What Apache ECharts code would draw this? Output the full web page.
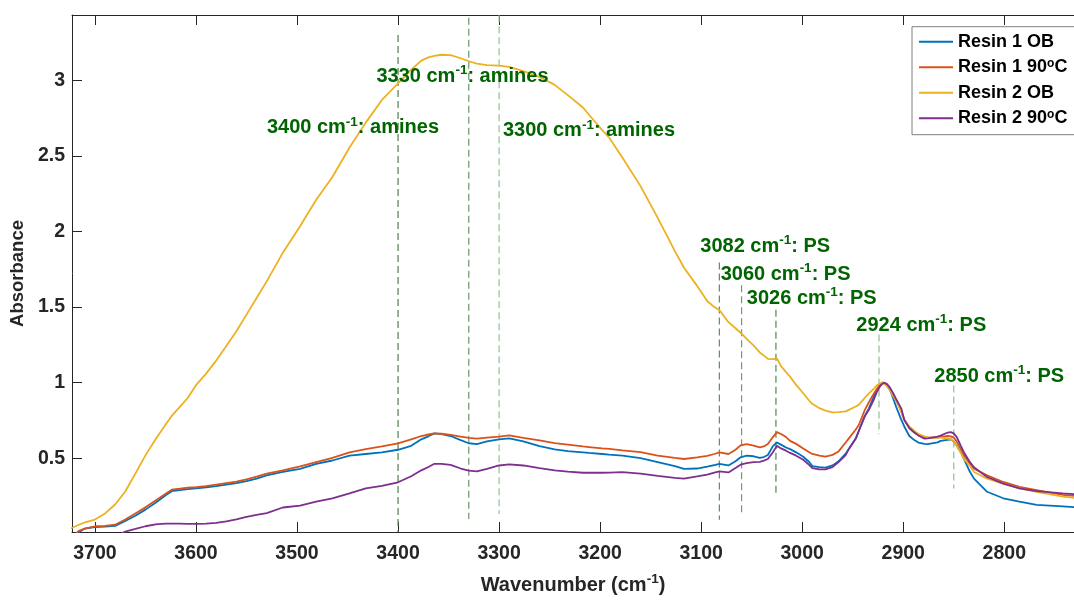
<!DOCTYPE html>
<html><head><meta charset="utf-8">
<script src="https://cdn.jsdelivr.net/npm/echarts@6/dist/echarts.min.js"></script>
<style>html,body{margin:0;padding:0;background:#fff}#c{width:1074px;height:603px}</style>
</head><body><div id="c"></div>
<script>
// ---- data ----
const wavenumber = [3724,3716,3710,3700,3690,3680,3670,3660,3650,3640,3630,3624,3616,3608,3600,3590,3580,3570,3560,3550,3540,3530,3514,3497,3481,3465,3448,3432,3416,3400,3387,3377,3370,3364,3357,3348,3338,3330,3322,3312,3300,3290,3276,3260,3245,3232,3217,3211,3198,3191,3178,3160,3143,3126,3117,3104,3094,3087,3082,3073,3066,3061,3055,3048,3042,3038,3034,3029,3025,3021,3016,3012,3006,2999,2993,2990,2983,2977,2970,2964,2957,2954,2947,2944,2938,2934,2929,2926,2923,2921,2919,2916,2913,2910,2907,2902,2899,2894,2889,2885,2879,2876,2866,2863,2856,2853,2850,2847,2843,2840,2834,2830,2817,2801,2785,2768,2742,2730];
const resin1OB = [-0.03,0.01,0.035,0.045,0.048,0.052,0.085,0.12,0.16,0.205,0.255,0.282,0.289,0.295,0.30,0.308,0.316,0.325,0.335,0.348,0.365,0.387,0.409,0.43,0.463,0.485,0.517,0.528,0.539,0.556,0.582,0.625,0.645,0.664,0.66,0.647,0.62,0.599,0.593,0.612,0.625,0.631,0.612,0.58,0.558,0.547,0.539,0.535,0.528,0.524,0.517,0.50,0.474,0.448,0.43,0.432,0.445,0.455,0.462,0.452,0.48,0.506,0.517,0.513,0.502,0.508,0.521,0.58,0.604,0.59,0.571,0.56,0.539,0.51,0.475,0.448,0.441,0.438,0.452,0.48,0.53,0.56,0.63,0.68,0.78,0.83,0.91,0.95,0.985,1.0,0.995,0.983,0.95,0.896,0.84,0.755,0.71,0.647,0.62,0.604,0.595,0.593,0.605,0.615,0.622,0.625,0.61,0.582,0.54,0.495,0.41,0.365,0.278,0.235,0.213,0.192,0.181,0.176];
const resin190C = [-0.03,0.02,0.035,0.05,0.053,0.06,0.095,0.135,0.175,0.22,0.265,0.292,0.298,0.305,0.308,0.315,0.325,0.335,0.345,0.36,0.378,0.398,0.42,0.446,0.474,0.502,0.539,0.56,0.578,0.598,0.625,0.647,0.657,0.664,0.662,0.655,0.643,0.634,0.63,0.636,0.643,0.651,0.634,0.618,0.60,0.59,0.578,0.574,0.565,0.562,0.552,0.54,0.517,0.502,0.495,0.506,0.515,0.528,0.538,0.528,0.556,0.585,0.593,0.584,0.572,0.578,0.594,0.64,0.673,0.66,0.64,0.615,0.595,0.565,0.539,0.528,0.517,0.51,0.522,0.545,0.604,0.63,0.69,0.72,0.82,0.87,0.929,0.96,0.99,1.0,0.998,0.985,0.96,0.92,0.886,0.81,0.755,0.70,0.67,0.655,0.636,0.636,0.636,0.64,0.647,0.645,0.636,0.61,0.56,0.52,0.463,0.43,0.387,0.343,0.31,0.289,0.257,0.25];
const resin2OB = [0.035,0.06,0.075,0.094,0.135,0.194,0.28,0.398,0.519,0.625,0.723,0.78,0.84,0.90,0.983,1.06,1.146,1.243,1.34,1.45,1.56,1.67,1.86,2.035,2.21,2.36,2.556,2.72,2.87,2.98,3.07,3.13,3.152,3.162,3.169,3.167,3.146,3.126,3.11,3.10,3.097,3.089,3.061,3.022,2.97,2.902,2.82,2.772,2.67,2.62,2.49,2.30,2.09,1.87,1.76,1.64,1.54,1.50,1.48,1.40,1.36,1.33,1.29,1.245,1.20,1.18,1.157,1.155,1.16,1.11,1.07,1.04,0.985,0.93,0.88,0.86,0.831,0.815,0.803,0.805,0.81,0.82,0.842,0.853,0.90,0.929,0.96,0.983,0.994,1.0,0.995,0.975,0.95,0.91,0.88,0.81,0.755,0.71,0.68,0.66,0.645,0.636,0.636,0.636,0.63,0.625,0.61,0.582,0.535,0.495,0.45,0.409,0.365,0.332,0.30,0.278,0.246,0.238];
const resin290C = [-0.12,-0.10,-0.08,-0.06,-0.04,-0.02,0.015,0.032,0.05,0.062,0.067,0.068,0.067,0.066,0.066,0.068,0.072,0.083,0.096,0.112,0.125,0.137,0.174,0.187,0.213,0.235,0.267,0.30,0.317,0.341,0.381,0.42,0.442,0.463,0.462,0.456,0.432,0.418,0.413,0.43,0.452,0.46,0.452,0.435,0.42,0.411,0.404,0.404,0.404,0.405,0.408,0.398,0.383,0.37,0.365,0.38,0.392,0.405,0.413,0.406,0.435,0.457,0.468,0.474,0.476,0.484,0.495,0.54,0.582,0.565,0.55,0.535,0.517,0.49,0.455,0.435,0.426,0.426,0.441,0.475,0.52,0.56,0.63,0.68,0.78,0.82,0.89,0.94,0.975,0.99,1.0,0.99,0.965,0.93,0.89,0.83,0.755,0.70,0.67,0.65,0.63,0.632,0.643,0.65,0.67,0.673,0.664,0.64,0.582,0.54,0.474,0.44,0.376,0.332,0.30,0.283,0.267,0.262];
const seriesNames = ['Resin 1 OB', 'Resin 1 90°C', 'Resin 2 OB', 'Resin 2 90°C'];
const xTicks = [3700, 3600, 3500, 3400, 3300, 3200, 3100, 3000, 2900, 2800];
const yTicks = [0.5, 1, 1.5, 2, 2.5, 3];
const peakWavenumbers = [3400, 3330, 3300, 3082, 3060, 3026, 2924, 2850];
const peakAssignments = ['amines', 'amines', 'amines', 'PS', 'PS', 'PS', 'PS', 'PS'];
const peakLineTop = [3.30, 3.414, 3.43, 1.794, 1.645, 1.482, 1.319, 0.981];
const peakLineBottom = [0.012, 0.098, 0.131, 0.093, 0.137, 0.257, 0.658, 0.30];
const peakLabelAnchorX = [3529.8, 3421.4, 3296.2, 3100.9, 3080.7, 3054.8, 2946.4, 2869.3];
const peakLabelAnchorY = [2.685, 3.024, 2.666, 1.900, 1.717, 1.555, 1.379, 1.044];

// ---- styles ----
const lineColors = ['#0072BD', '#D95319', '#EDB120', '#7E2F8E'];
const peakLineColors = ['#4f7f4f', '#6a976a', '#93c193', '#5a8f5a', '#6f9a6f', '#4a8a4a', '#8fbf8f', '#8fbf8f'];
const axisColor = '#262626';
const annColor = '#006400';
const X_MIN = 2731, X_MAX = 3722.7, Y_MIN = 0.012, Y_MAX = 3.432;

const spectra = [resin1OB, resin190C, resin2OB, resin290C];
const series = [];

peakWavenumbers.forEach((w, i) => {
  series.push({
    type: 'line', silent: true, symbol: 'none', z: 1,
    data: [[w, peakLineTop[i]], [w, peakLineBottom[i]]],
    lineStyle: { color: peakLineColors[i], width: 1.2, type: [7, 4] }
  });
});

spectra.forEach((arr, k) => {
  series.push({
    name: seriesNames[k], type: 'line', symbol: 'none', showSymbol: false, z: 3,
    data: wavenumber.map((w, i) => [w, arr[i]]),
    lineStyle: { color: lineColors[k], width: 1.8 },
    itemStyle: { color: lineColors[k] },
    clip: true
  });
});

series.push({
  type: 'scatter', silent: true, z: 5, symbolSize: 0,
  itemStyle: { color: 'rgba(0,0,0,0)', opacity: 1 },
  data: peakLabelAnchorX.map((x, i) => [x, peakLabelAnchorY[i]]),
  label: {
    show: true, position: [0, 0], align: 'left', verticalAlign: 'middle', opacity: 1,
    formatter: p => '{n|' + peakWavenumbers[p.dataIndex] + ' cm}{s|-1}{n|: ' + peakAssignments[p.dataIndex] + '}',
    rich: {
      n: { fontFamily: 'Liberation Sans', fontWeight: 'bold', fontSize: 20, color: annColor, lineHeight: 26 },
      s: { fontFamily: 'Liberation Sans', fontWeight: 'bold', fontSize: 13.5, color: annColor, lineHeight: 11, verticalAlign: 'top' }
    }
  }
});

const chart = echarts.init(document.getElementById('c'), null, { renderer: 'canvas' });
chart.setOption({
  animation: false,
  backgroundColor: '#ffffff',
  grid: { left: 69, top: 15, right: -11, bottom: 62, containLabel: false },
  legend: {
    data: seriesNames, orient: 'vertical', left: 912, top: 26.7,
    icon: 'rect', itemWidth: 34, itemHeight: 2, itemGap: 5.5,
    padding: [5, 12, 6.5, 7],
    borderColor: '#7f7f7f', borderWidth: 1, backgroundColor: '#fff',
    formatter: name => name.replace('°', '{s|o}'),
    textStyle: {
      fontFamily: 'Liberation Sans', fontWeight: 'bold', fontSize: 18, color: '#000', lineHeight: 20,
      rich: { s: { fontFamily: 'Liberation Sans', fontWeight: 'bold', fontSize: 12, color: '#000', lineHeight: 10, verticalAlign: 'top' } }
    }
  },
  xAxis: [{
    type: 'value', inverse: true, min: X_MIN, max: X_MAX, position: 'bottom',
    name: 'Wavenumber (cm{s|-1})', nameLocation: 'middle', nameGap: 40,
    nameTextStyle: {
      fontFamily: 'Liberation Sans', fontWeight: 'bold', fontSize: 20, color: axisColor, lineHeight: 26,
      rich: { s: { fontFamily: 'Liberation Sans', fontWeight: 'bold', fontSize: 13.5, color: axisColor, lineHeight: 11, verticalAlign: 'top' } }
    },
    axisLine: { show: true, onZero: false, lineStyle: { color: axisColor, width: 1 } },
    axisTick: { show: true, inside: true, length: 10, customValues: xTicks, lineStyle: { color: axisColor } },
    axisLabel: { show: true, customValues: xTicks, margin: 12, fontFamily: 'Liberation Sans', fontWeight: 'bold', fontSize: 19.5, color: axisColor,
      formatter: v => String(v) },
    splitLine: { show: false }
  }, {
    type: 'value', inverse: true, min: X_MIN, max: X_MAX, position: 'top',
    axisLine: { show: true, onZero: false, lineStyle: { color: axisColor, width: 1 } },
    axisTick: { show: true, inside: true, length: 10, customValues: xTicks, lineStyle: { color: axisColor } },
    axisLabel: { show: false },
    splitLine: { show: false }
  }],
  yAxis: [{
    type: 'value', min: Y_MIN, max: Y_MAX,
    name: 'Absorbance', nameLocation: 'middle', nameGap: 41,
    nameTextStyle: { fontFamily: 'Liberation Sans', fontWeight: 'bold', fontSize: 18.5, color: axisColor },
    axisLine: { show: true, onZero: false, lineStyle: { color: axisColor, width: 1 } },
    axisTick: { show: true, inside: true, length: 10, customValues: yTicks, lineStyle: { color: axisColor } },
    axisLabel: { show: true, customValues: yTicks, margin: 7, fontFamily: 'Liberation Sans', fontWeight: 'bold', fontSize: 19.5, color: axisColor,
      formatter: v => String(v) },
    splitLine: { show: false }
  }],
  series: series
});
</script>
</body></html>
